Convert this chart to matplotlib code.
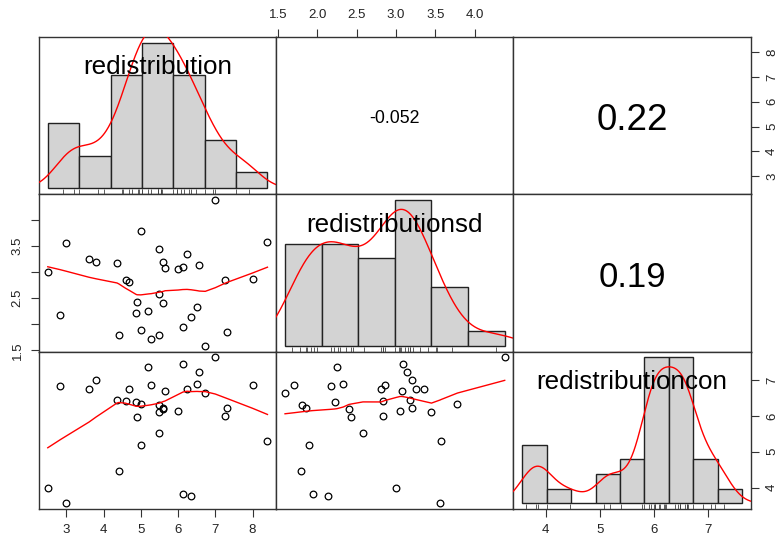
import numpy as np
import matplotlib
matplotlib.use('Agg')
import matplotlib.pyplot as plt
from matplotlib import transforms

plt.rcParams['font.family'] = ['Liberation Sans', 'DejaVu Sans']

names = ['redistribution', 'redistributionsd', 'redistributioncon']

# one value per country, same order in all three lists
redistribution = [7.00, 6.12, 5.20, 6.57, 3.80, 5.28, 2.84, 6.51, 8.00, 4.69,
                  3.61, 6.24, 5.65, 6.73, 4.87, 4.59, 4.36, 5.50, 7.32, 5.60,
                  5.60, 6.00, 5.00, 5.50, 4.90, 7.27, 5.50, 8.40, 5.00, 4.41,
                  2.50, 6.13, 6.35, 3.00]
redistributionsd = [4.38, 3.09, 2.25, 3.14, 3.20, 1.71, 2.17, 2.33, 2.86, 2.81,
                    3.25, 3.35, 3.07, 1.59, 2.22, 2.84, 3.18, 1.80, 1.86, 2.40,
                    3.20, 3.05, 3.78, 3.45, 2.43, 2.84, 2.58, 3.57, 1.90, 1.79,
                    3.00, 1.94, 2.13, 3.56]
redistributioncon = [7.63, 7.45, 7.37, 7.21, 7.00, 6.87, 6.83, 6.89, 6.87, 6.74,
                     6.74, 6.74, 6.70, 6.63, 6.40, 6.42, 6.44, 6.30, 6.21, 6.20,
                     6.22, 6.14, 6.33, 6.10, 5.96, 6.00, 5.53, 5.30, 5.18, 4.47,
                     4.00, 3.83, 3.78, 3.57]

# histogram breaks and counts on the diagonal
a_breaks = [2, 3, 4, 5, 6, 7, 8, 9]
a_counts = [4, 2, 7, 9, 7, 3, 1]
b_breaks = [1.5, 2.0, 2.5, 3.0, 3.5, 4.0, 4.5]
b_counts = [7, 7, 6, 10, 4, 1]
c_breaks = [3.5, 4.0, 4.5, 5.0, 5.5, 6.0, 6.5, 7.0, 7.5, 8.0]
c_counts = [4, 1, 0, 2, 3, 10, 10, 3, 1]

# correlations shown in the upper panels
cor_cells = [(0, 1), (0, 2), (1, 2)]
cor_labels = ['-0.052', '0.22', '0.19']
cor_sizes = [12.8, 26.5, 25.0]

a_ticks = [3, 4, 5, 6, 7, 8]
b_ticks = [1.5, 2.0, 2.5, 3.0, 3.5, 4.0]
c_ticks = [4, 5, 6, 7]

data = [np.array(redistribution), np.array(redistributionsd), np.array(redistributioncon)]
breaks = [a_breaks, b_breaks, c_breaks]
counts = [a_counts, b_counts, c_counts]
ticks = [a_ticks, b_ticks, c_ticks]


def padded(lo, hi, frac=0.04):
    d = hi - lo
    return lo - frac * d, hi + frac * d


def kde(v):
    n = len(v)
    q75, q25 = np.percentile(v, [75, 25])
    bw = 0.9 * min(v.std(ddof=1), (q75 - q25) / 1.34) * n ** -0.2
    grid = np.linspace(v.min() - 3 * bw, v.max() + 3 * bw, 512)
    z = (grid[:, None] - v[None, :]) / bw
    dens = np.exp(-0.5 * z ** 2).sum(axis=1) / (n * bw * np.sqrt(2 * np.pi))
    return grid, dens


def lowess(x, y, f=2 / 3, iters=3):
    order = np.argsort(x, kind='stable')
    x = np.asarray(x, float)[order]
    y = np.asarray(y, float)[order]
    n = len(x)
    ns = max(2, min(n, int(f * n + 1e-7)))
    rw = np.ones(n)
    fit = np.zeros(n)
    span = x[-1] - x[0]
    for it in range(iters + 1):
        for i in range(n):
            d = np.abs(x - x[i])
            h = np.sort(d)[ns - 1]
            w = np.zeros(n)
            inside = d <= 0.999 * h
            w[inside] = (1 - (d[inside] / h) ** 3) ** 3
            w[d <= 0.001 * h] = 1.0
            w *= rw
            if w.sum() <= 0:
                fit[i] = y[i]
                continue
            w /= w.sum()
            xm = (w * x).sum()
            c = (w * (x - xm) ** 2).sum()
            if h > 0 and np.sqrt(c) > 0.001 * span:
                w = w * (1 + (x[i] - xm) * (x - xm) / c)
            fit[i] = (w * y).sum()
        if it == iters:
            break
        res = np.abs(y - fit)
        cmad = 6 * np.median(res)
        if cmad < 1e-7 * np.abs(y).mean():
            break
        u = res / cmad
        rw = np.where(u < 1, (1 - u ** 2) ** 2, 0.0)
        rw[res <= 0.001 * cmad] = 1.0
        rw[res > 0.999 * cmad] = 0.0
    return x, fit


def centred_text(ax, xf, yf, s, size, drop):
    # put the baseline a fraction of the em below the anchor so the glyphs sit centred
    ax.annotate(s, (xf, yf), xycoords='axes fraction', xytext=(0, -drop * size),
                textcoords='offset points', ha='center', va='baseline',
                fontsize=size, color='black', zorder=4)


fig = plt.figure(figsize=(7.83, 5.45), dpi=100)
gs = fig.add_gridspec(3, 3, left=0.0498, right=0.9588, bottom=0.0661, top=0.9327,
                      wspace=0, hspace=0)

nvar = len(data)
frame_col = '#333333'
for i in range(nvar):
    for j in range(nvar):
        ax = fig.add_subplot(gs[i, j])
        x, y = data[j], data[i]
        ax.set_xlim(*padded(x.min(), x.max()))
        ax.set_ylim(*padded(y.min(), y.max()))
        for sp in ax.spines.values():
            sp.set_color(frame_col)
            sp.set_linewidth(1.0)
        ax.tick_params(length=5.5, width=0.8, color=frame_col, labelsize=9.5,
                       labelcolor='#222222', pad=5.5)
        ax.set_xticks([])
        ax.set_yticks([])

        # outer axes alternate sides like pairs()
        if i == nvar - 1 and j % 2 == 0:
            ax.set_xticks(ticks[j])
            ax.set_xticklabels([f'{t:g}' for t in ticks[j]])
        if i == 0 and j % 2 == 1:
            ax.xaxis.tick_top()
            ax.set_xticks(ticks[j])
            ax.set_xticklabels([f'{t:.1f}' for t in ticks[j]])
        if j == nvar - 1 and i % 2 == 0:
            ax.yaxis.tick_right()
            ax.set_yticks(ticks[i])
            ax.set_yticklabels([f'{t:g}' for t in ticks[i]], rotation=90, va='center')
        if j == 0 and i % 2 == 1:
            ax.set_yticks(ticks[i])
            labs = [f'{t:.1f}' if k % 2 == 0 else '' for k, t in enumerate(ticks[i])]
            ax.set_yticklabels(labs, rotation=90, va='center')

        if i == j:
            # histogram in its own coordinates, overlaid on the panel
            hax = ax.inset_axes([0, 0, 1, 1])
            hax.set_axis_off()
            br = np.array(breaks[i], float)
            cnt = np.array(counts[i], float)
            w = np.diff(br)
            dens = cnt / (cnt.sum() * w)
            hax.set_xlim(*padded(br[0], br[-1]))
            hax.set_ylim(*padded(0, dens.max()))
            hax.bar(br[:-1], dens, width=w, align='edge', color='#D3D3D3',
                    edgecolor='#222222', linewidth=1.0, zorder=1)
            g, dv = kde(x)
            hax.plot(g, dv, color='red', lw=1.0, zorder=2)
            rug_tr = transforms.blended_transform_factory(hax.transData, hax.transAxes)
            hax.vlines(x, 0, 0.03, transform=rug_tr, color='#444444', lw=0.6, zorder=2)
            centred_text(hax, 0.5, 0.833, names[i], 18.7, 0.435)
        elif i > j:
            ax.plot(x, y, 'o', mfc='none', mec='black', ms=4.8, mew=0.9)
            sx, sy = lowess(x, y)
            ax.plot(sx, sy, color='red', lw=1.0)

for (i, j), lab, fs in zip(cor_cells, cor_labels, cor_sizes):
    ax = fig.axes[i * nvar + j]
    centred_text(ax, 0.5, 0.5, lab, fs, 0.40)

fig.savefig('out.png', dpi=100)
